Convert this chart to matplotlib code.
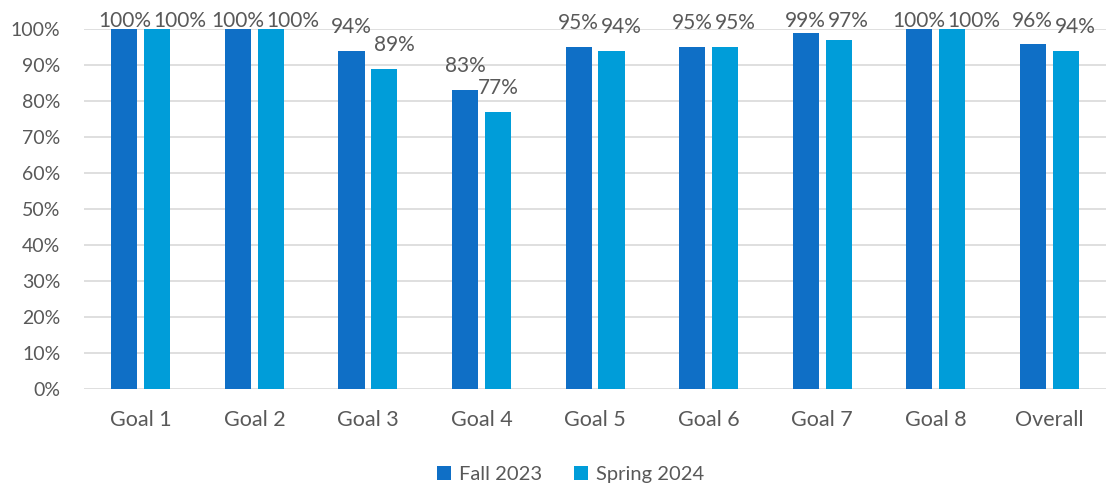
import numpy as np
import matplotlib.pyplot as plt

categories = ["Goal 1", "Goal 2", "Goal 3", "Goal 4", "Goal 5", "Goal 6", "Goal 7", "Goal 8", "Overall"]
fall_2023 = [100, 100, 94, 83, 95, 95, 99, 100, 96]
spring_2024 = [100, 100, 89, 77, 94, 95, 97, 100, 94]

plt.rcParams['font.family'] = ['Lato', 'DejaVu Sans']
text_color = "#595959"

fig = plt.figure(figsize=(11.06, 4.87), dpi=100)
ax = fig.add_axes([0.076, 0.201, 0.924, 0.739])

x = np.arange(len(categories))
w = 0.23
b1 = ax.bar(x - 0.145, fall_2023, w, color="#0F6FC6", label="Fall 2023", zorder=3)
b2 = ax.bar(x + 0.145, spring_2024, w, color="#009DD9", label="Spring 2024", zorder=3)

ax.set_xlim(-0.5, len(categories) - 0.5)
ax.set_ylim(0, 100)
ax.set_yticks(range(0, 101, 10))
ax.set_yticklabels([f"{t}%" for t in range(0, 101, 10)])
ax.set_xticks(x)
ax.set_xticklabels(categories)
ax.tick_params(axis="both", length=0, colors=text_color)
ax.tick_params(axis="x", pad=15, labelsize=15.5)
ax.tick_params(axis="y", pad=17, labelsize=14)
ax.grid(axis="y", color="#d9d9d9", linewidth=1.2, zorder=0)
for s in ax.spines.values():
    s.set_visible(False)

# data labels, baseline ~5% above the bar, kept inside the chart
renderer = fig.canvas.get_renderer()
for i in range(len(categories)):
    f_rect, s_rect = b1[i], b2[i]
    tf = ax.annotate(f"{fall_2023[i]}%", (f_rect.get_x() + w / 2, min(fall_2023[i] + 5, 100.6)),
                     ha="center", va="baseline", fontsize=15, color=text_color,
                     annotation_clip=False)
    ts = ax.annotate(f"{spring_2024[i]}%", (s_rect.get_x() + w / 2, min(spring_2024[i] + 5, 100.6)),
                     ha="center", va="baseline", fontsize=15, color=text_color,
                     annotation_clip=False)
    bf = tf.get_window_extent(renderer)
    bs = ts.get_window_extent(renderer)
    if bf.x1 + 1 > bs.x0 and abs(bf.y0 - bs.y0) < bf.height:
        shift = (bf.x1 - bs.x0 + 2) * 72 / fig.dpi
        ts.xyann = (shift, 0)
        ts.set_anncoords("offset points")

fig.legend(handles=[b1, b2], loc="lower center", bbox_to_anchor=(0.516, -0.03), ncol=2,
           frameon=False, fontsize=14.5, handlelength=0.7, handleheight=0.7,
           columnspacing=1.6, handletextpad=0.4, labelcolor=text_color)

fig.savefig("out.png", dpi=100)
